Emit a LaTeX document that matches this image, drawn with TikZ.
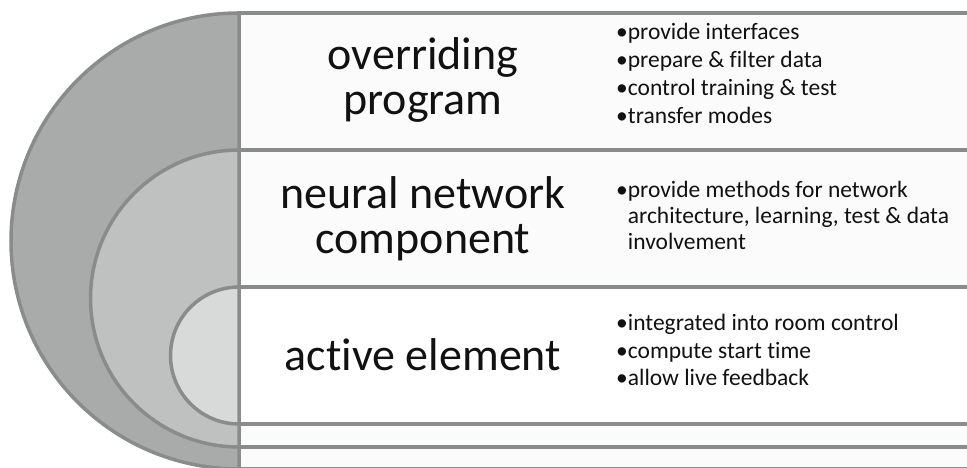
\documentclass[tikz,border=0pt]{standalone}
\usepackage{fontspec}
\setmainfont{Carlito}[Ligatures={CommonOff,ContextualOff}]
\definecolor{rimgray}{HTML}{8A8B8B}
\definecolor{outerfill}{HTML}{A9AAAA}
\definecolor{middlefill}{HTML}{BFC0C0}
\definecolor{innerfill}{HTML}{D8D9D9}
\definecolor{boxfill}{HTML}{FBFBFB}
\definecolor{inkblack}{HTML}{111111}
\tikzset{
  layer/.style={draw=rimgray,line width=3.5pt},
  title/.style={font=\fontsize{46}{45}\selectfont,align=center,inner sep=0pt,text=inkblack},
  items/.style={font=\fontsize{23.5}{28}\selectfont,align=left,anchor=north west,inner sep=0pt,text=inkblack},
}

\begin{document}
\begin{tikzpicture}[x=1pt,y=-1pt]
  \useasboundingbox (0,0) rectangle (967,468);
  \clip (0,0) rectangle (967,468);
  % outer layer: overriding program
  \filldraw[layer,fill=boxfill] (239,13) rectangle (980,469);
  \filldraw[layer,fill=outerfill] (239,13) arc[start angle=270,end angle=90,radius=228] -- cycle;
  % middle layer: neural network component
  \filldraw[layer,fill=boxfill] (239,150) rectangle (980,447);
  \filldraw[layer,fill=middlefill] (239,150) arc[start angle=270,end angle=90,radius=148.5] -- cycle;
  % inner layer: active element
  \filldraw[layer,fill=white] (239,287) rectangle (980,424);
  \filldraw[layer,fill=innerfill] (239,287) arc[start angle=270,end angle=90,radius=68.5] -- cycle;

  \node[title] (prog) at (423,80) {overriding\\program};
  \node[title] (nnc) at (423,219) {neural network\\component};
  \node[title] (act) at (423,355) {active element};

  \node[items] (progitems) at (616,23)
    {\textbullet provide interfaces\\
     \textbullet prepare \& filter data\\
     \textbullet control training \& test\\
     \textbullet transfer modes};
  \node[items,font=\fontsize{23.5}{26}\selectfont] (nncitems) at (616,181)
    {\textbullet provide methods for network\\
     \phantom{\textbullet}architecture, learning, test \& data\\
     \phantom{\textbullet}involvement};
  \node[items,font=\fontsize{23.5}{27.5}\selectfont] (actitems) at (616,314)
    {\textbullet integrated into room control\\
     \textbullet compute start time\\
     \textbullet allow live feedback};
\end{tikzpicture}
\end{document}
